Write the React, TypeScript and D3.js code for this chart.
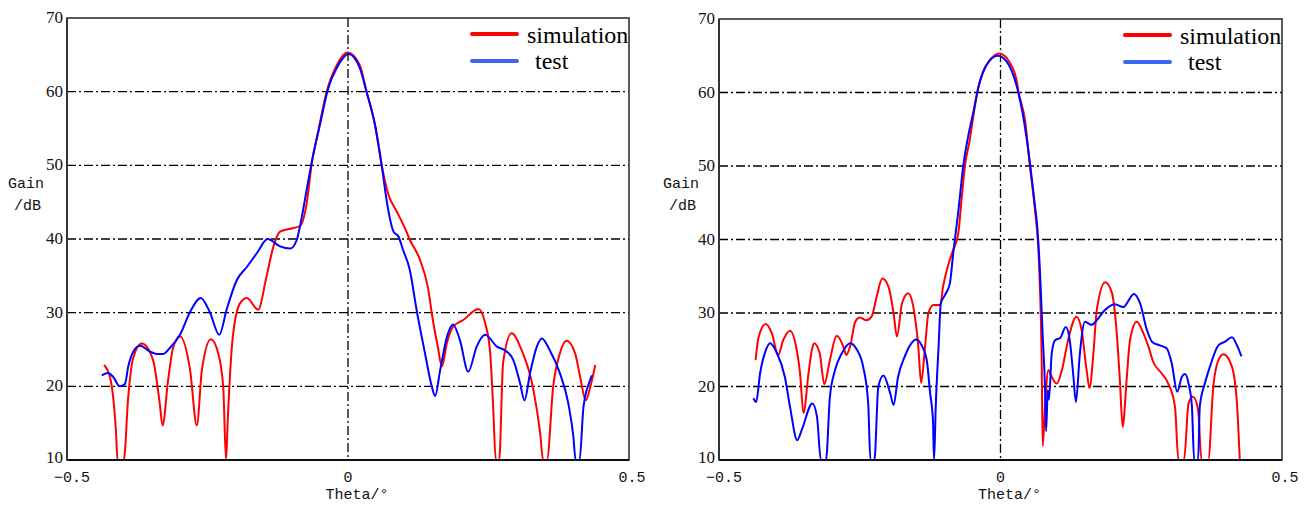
import React from 'react';
import * as d3 from 'd3';

type Pt = [number, number];

// left panel: simulation (red) and test (blue), theta in degrees, gain in dB
const leftSim: Pt[] = [
  [-0.434, 22.9], [-0.423, 21.1], [-0.413, 14.0], [-0.410, 10], [-0.399, 10], [-0.391, 18.6],
  [-0.383, 23.6], [-0.367, 25.8], [-0.347, 23.6], [-0.335, 17.7], [-0.330, 14.7], [-0.320, 20.9],
  [-0.311, 25.3], [-0.299, 26.8], [-0.281, 22.2], [-0.269, 14.7], [-0.260, 22.2], [-0.244, 26.4],
  [-0.231, 24.5], [-0.222, 19.9], [-0.217, 10], [-0.214, 15.4], [-0.205, 26.7], [-0.192, 31.3],
  [-0.180, 32.0], [-0.160, 30.4], [-0.145, 34.9], [-0.133, 38.9], [-0.121, 41.0], [-0.103, 41.4],
  [-0.085, 41.8], [-0.073, 45.1], [-0.065, 50.0], [-0.053, 54.6], [-0.038, 60.0], [-0.020, 63.6],
  [-0.001, 65.3], [0.021, 63.6], [0.033, 60.0], [0.048, 55.5], [0.060, 50.0], [0.072, 46.0],
  [0.087, 43.7], [0.104, 41.0], [0.110, 39.9], [0.128, 37.2], [0.142, 33.5], [0.151, 29.0],
  [0.160, 25.3], [0.167, 22.7], [0.176, 25.9], [0.187, 28.1], [0.205, 29.0], [0.232, 30.5],
  [0.244, 28.6], [0.253, 24.5], [0.258, 17.7], [0.263, 10], [0.269, 10], [0.276, 23.2],
  [0.291, 27.2], [0.309, 24.9], [0.329, 19.9], [0.342, 13.6], [0.347, 10], [0.354, 10],
  [0.365, 19.9], [0.377, 24.5], [0.389, 26.2], [0.404, 24.5], [0.413, 21.3], [0.423, 18.1],
  [0.431, 19.9], [0.440, 22.9],
];

const leftTest: Pt[] = [
  [-0.438, 21.5], [-0.427, 21.8], [-0.418, 21.3], [-0.406, 20.0], [-0.397, 20.3], [-0.391, 22.7],
  [-0.382, 24.7], [-0.370, 25.5], [-0.352, 24.7], [-0.340, 24.4], [-0.329, 24.4], [-0.317, 25.2],
  [-0.299, 27.0], [-0.281, 30.1], [-0.262, 32.0], [-0.246, 30.1], [-0.229, 27.0], [-0.216, 30.4],
  [-0.198, 34.4], [-0.180, 36.2], [-0.162, 38.1], [-0.143, 40.0], [-0.121, 39.0], [-0.103, 38.7],
  [-0.091, 39.9], [-0.085, 41.9], [-0.073, 46.9], [-0.062, 51.4], [-0.050, 55.5], [-0.035, 60.5],
  [-0.020, 63.2], [0.001, 65.1], [0.021, 63.2], [0.033, 60.0], [0.048, 55.5], [0.060, 50.0],
  [0.069, 45.1], [0.081, 41.0], [0.090, 40.3], [0.098, 38.5], [0.110, 35.8], [0.122, 30.4],
  [0.137, 24.5], [0.149, 20.0], [0.155, 18.7], [0.164, 22.2], [0.176, 26.7], [0.187, 28.4],
  [0.199, 26.3], [0.214, 22.0], [0.229, 25.4], [0.244, 27.0], [0.265, 25.4], [0.279, 24.9],
  [0.294, 23.6], [0.306, 20.5], [0.314, 18.1], [0.324, 21.8], [0.336, 25.4], [0.345, 26.5],
  [0.359, 24.9], [0.377, 21.8], [0.392, 17.7], [0.401, 13.2], [0.405, 10], [0.412, 10],
  [0.419, 17.2], [0.431, 20.9], [0.434, 21.5],
];

// right panel
const rightSim: Pt[] = [
  [-0.435, 23.6], [-0.430, 26.6], [-0.417, 28.5], [-0.406, 27.2], [-0.395, 24.3], [-0.386, 26.3],
  [-0.374, 27.6], [-0.362, 25.0], [-0.356, 21.8], [-0.350, 16.4], [-0.341, 21.8], [-0.335, 25.0],
  [-0.331, 25.9], [-0.321, 24.5], [-0.313, 20.3], [-0.303, 23.6], [-0.291, 26.9], [-0.279, 25.4],
  [-0.274, 24.3], [-0.267, 25.5], [-0.258, 28.8], [-0.250, 29.4], [-0.238, 29.0], [-0.229, 29.5],
  [-0.220, 32.2], [-0.210, 34.7], [-0.199, 33.6], [-0.190, 30.0], [-0.184, 26.8], [-0.175, 31.3],
  [-0.164, 32.7], [-0.155, 30.9], [-0.146, 25.4], [-0.141, 20.5], [-0.134, 25.4], [-0.128, 30.0],
  [-0.119, 31.1], [-0.107, 31.1], [-0.102, 33.6], [-0.093, 36.5], [-0.084, 38.6], [-0.075, 40.8],
  [-0.069, 45.6], [-0.063, 50.1], [-0.054, 53.8], [-0.048, 56.9], [-0.041, 60.1], [-0.031, 62.8],
  [-0.019, 64.4], [-0.002, 65.3], [0.017, 64.0], [0.029, 61.5], [0.032, 60.1], [0.044, 56.0],
  [0.052, 50.1], [0.061, 44.2], [0.067, 39.0], [0.070, 33.6], [0.073, 24.5], [0.075, 11.9],
  [0.079, 17.2], [0.085, 22.2], [0.091, 21.3], [0.100, 20.4], [0.109, 22.2], [0.120, 26.3],
  [0.135, 29.5], [0.144, 27.7], [0.153, 22.2], [0.158, 19.8], [0.165, 24.5], [0.171, 30.4],
  [0.186, 34.2], [0.198, 32.7], [0.206, 27.7], [0.212, 20.9], [0.217, 14.5], [0.224, 20.9],
  [0.230, 26.3], [0.242, 28.8], [0.254, 27.2], [0.263, 25.4], [0.271, 23.4], [0.286, 21.8],
  [0.298, 20.4], [0.310, 17.2], [0.316, 10], [0.326, 10], [0.334, 17.7], [0.342, 18.6],
  [0.351, 16.8], [0.357, 10], [0.369, 10], [0.378, 20.0], [0.387, 23.6], [0.396, 24.4],
  [0.411, 22.7], [0.420, 17.7], [0.425, 10],
];

const rightTest: Pt[] = [
  [-0.439, 18.4], [-0.434, 17.9], [-0.427, 21.8], [-0.418, 24.7], [-0.409, 25.9], [-0.398, 24.7],
  [-0.383, 21.3], [-0.374, 17.3], [-0.361, 12.7], [-0.353, 14.1], [-0.334, 17.7], [-0.326, 15.9],
  [-0.319, 10], [-0.310, 10], [-0.303, 18.6], [-0.294, 22.2], [-0.282, 24.5], [-0.267, 25.9],
  [-0.255, 25.0], [-0.244, 22.7], [-0.235, 17.7], [-0.231, 10], [-0.224, 10], [-0.217, 20.0],
  [-0.208, 21.5], [-0.196, 19.1], [-0.190, 17.5], [-0.182, 21.3], [-0.170, 24.1], [-0.158, 25.9],
  [-0.150, 26.4], [-0.140, 25.6], [-0.131, 23.6], [-0.125, 19.1], [-0.120, 15.4], [-0.118, 10],
  [-0.115, 17.3], [-0.110, 25.4], [-0.106, 31.3], [-0.099, 32.4], [-0.090, 34.0], [-0.084, 38.1],
  [-0.075, 43.8], [-0.066, 50.1], [-0.057, 54.2], [-0.048, 57.4], [-0.039, 60.8], [-0.025, 63.7],
  [-0.005, 65.0], [0.011, 64.2], [0.029, 60.8], [0.040, 56.9], [0.052, 50.6], [0.061, 44.7],
  [0.065, 42.0], [0.070, 35.8], [0.075, 26.8], [0.079, 20.0], [0.081, 13.9], [0.084, 19.5],
  [0.086, 18.2], [0.091, 24.5], [0.097, 26.3], [0.106, 26.6], [0.116, 28.1], [0.123, 26.3],
  [0.129, 21.8], [0.134, 17.9], [0.141, 24.5], [0.150, 28.8], [0.162, 28.4], [0.171, 29.0],
  [0.183, 30.2], [0.203, 31.2], [0.218, 30.8], [0.237, 32.6], [0.248, 31.3], [0.260, 27.7],
  [0.269, 26.1], [0.283, 25.6], [0.295, 25.2], [0.304, 23.2], [0.314, 19.3], [0.322, 21.3],
  [0.328, 21.7], [0.334, 20.4], [0.340, 17.3], [0.344, 10], [0.351, 10], [0.354, 17.3],
  [0.363, 20.4], [0.372, 22.7], [0.387, 25.6], [0.399, 26.1], [0.411, 26.7], [0.420, 25.6],
  [0.428, 24.1],
];

const yTicks = [10, 20, 30, 40, 50, 60, 70];
const xTicks = [-0.5, 0, 0.5];
const xTickLabels = ['\u22120.5', '0', '0.5'];
const legendNames = ['simulation', 'test'];

const RED = '#ff0000';
const BLUE = '#0000ff';
const LEGEND_BLUE = '#3d66f5';
const MONO = '"Liberation Mono", "DejaVu Sans Mono", monospace';
const SERIF = '"Liberation Serif", "DejaVu Serif", serif';

interface PanelProps {
  id: string;
  x0: number;
  x1: number;
  y0: number;
  y1: number;
  sim: Pt[];
  test: Pt[];
  legendX: number;
  titleX: number;
}

const Panel: React.FC<PanelProps> = ({ id, x0, x1, y0, y1, sim, test, legendX, titleX }) => {
  const x = d3.scaleLinear().domain([-0.5, 0.5]).range([x0, x1]);
  const y = d3.scaleLinear().domain([10, 70]).range([y1, y0]);
  const line = d3.line<Pt>()
    .x(d => x(d[0]))
    .y(d => y(d[1]))
    .curve(d3.curveMonotoneX);
  const dash = '9,3,2,3';
  // small nudges so the labels sit like the original's glyphs
  const xLabelShift = [5, 0, 3];

  return (
    <g>
      <defs>
        <clipPath id={`clip-${id}`}>
          <rect x={x0} y={y0} width={x1 - x0} height={y1 - y0} />
        </clipPath>
      </defs>

      {/* grid */}
      {yTicks.filter(t => t > 10 && t < 70).map(t => (
        <line key={t} x1={x0} x2={x1} y1={y(t)} y2={y(t)}
          stroke="#000" strokeWidth={1.3} strokeDasharray={dash} />
      ))}
      <line x1={x(0)} x2={x(0)} y1={y0} y2={y1}
        stroke="#000" strokeWidth={1.3} strokeDasharray={dash} />

      {/* curves */}
      <g clipPath={`url(#clip-${id})`}>
        <path d={line(sim) || ''} fill="none" stroke={RED} strokeWidth={2} />
        <path d={line(test) || ''} fill="none" stroke={BLUE} strokeWidth={2} />
      </g>

      {/* frame */}
      <rect x={x0} y={y0} width={x1 - x0} height={y1 - y0}
        fill="none" stroke="#333" strokeWidth={1.6} />
      <line x1={x0} x2={x1} y1={y1} y2={y1} stroke="#111" strokeWidth={2.2} />
      <line x1={x0} x2={x0} y1={y0} y2={y1} stroke="#333" strokeWidth={2} />

      {/* y tick labels */}
      {yTicks.map(t => (
        <text key={t} x={x0 - 4} y={y(t) + (t === 10 ? 3 : 5)} textAnchor="end"
          fontFamily={SERIF} fontSize={17} fill="#111">{t}</text>
      ))}
      {/* x tick labels */}
      {xTicks.map((t, i) => (
        <text key={t} x={x(t) + xLabelShift[i]} y={482} textAnchor="middle"
          fontFamily={MONO} fontSize={15} fill="#111">{xTickLabels[i]}</text>
      ))}

      {/* axis titles */}
      <text x={titleX} y={188} fontFamily={MONO} fontSize={15} fill="#111">Gain</text>
      <text x={titleX + 6} y={210} fontFamily={MONO} fontSize={15} fill="#111">/dB</text>
      <text x={x(0) + 9} y={499} textAnchor="middle" fontFamily={MONO} fontSize={15} fill="#111">Theta/°</text>

      {/* legend */}
      <line x1={legendX} x2={legendX + 45} y1={y0 + 16} y2={y0 + 16}
        stroke={RED} strokeWidth={4} strokeLinecap="round" />
      <text x={legendX + 55} y={y0 + 25} fontFamily={SERIF} fontSize={24} fill="#000">{legendNames[0]}</text>
      <line x1={legendX} x2={legendX + 45} y1={y0 + 43} y2={y0 + 43}
        stroke={LEGEND_BLUE} strokeWidth={4} strokeLinecap="round" />
      <text x={legendX + 63} y={y0 + 51} fontFamily={SERIF} fontSize={24} fill="#000">{legendNames[1]}</text>
    </g>
  );
};

const App: React.FC = () => {
  return (
    <svg width={1308} height={505} style={{ position: 'absolute', left: 0, top: 0, background: '#fff' }}>
      <rect width={1308} height={505} fill="#fff" />
      <Panel id="a" x0={67} x1={629} y0={18} y1={460} sim={leftSim} test={leftTest} legendX={472} titleX={8} />
      <Panel id="b" x0={719} x1={1282} y0={19} y1={460} sim={rightSim} test={rightTest} legendX={1125} titleX={663} />
    </svg>
  );
};

export default App;
